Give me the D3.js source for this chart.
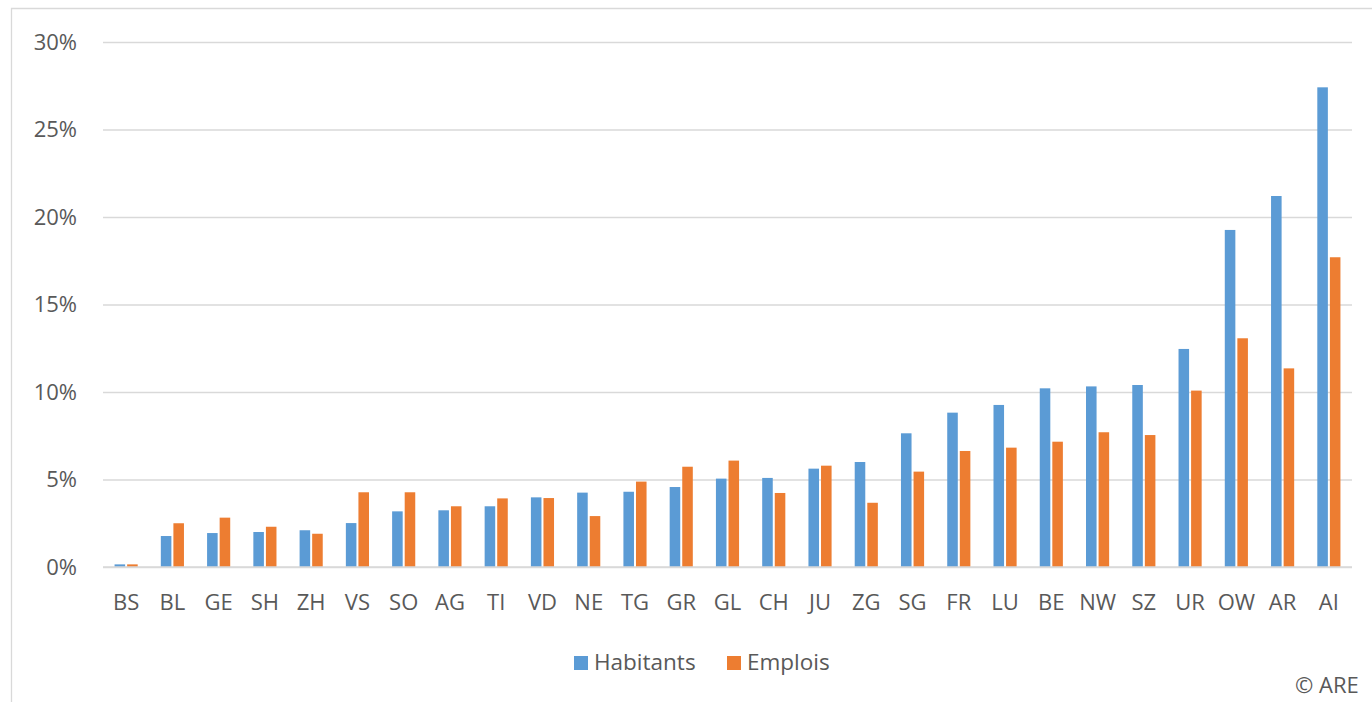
<!DOCTYPE html>
<html>
<head>
<meta charset="utf-8">
<script src="https://cdn.jsdelivr.net/npm/d3@7"></script>
<style>
  html, body { margin: 0; padding: 0; background: #fff; overflow: hidden; }
  svg text { font-family: 'Open Sans', 'Noto Sans', sans-serif; fill: #595959; }
</style>
</head>
<body>
<div id="chart"></div>
<script>
// Cantons, triés par part des habitants
var cantons = ['BS', 'BL', 'GE', 'SH', 'ZH', 'VS', 'SO', 'AG', 'TI', 'VD', 'NE', 'TG', 'GR', 'GL',
  'CH', 'JU', 'ZG', 'SG', 'FR', 'LU', 'BE', 'NW', 'SZ', 'UR', 'OW', 'AR', 'AI']
var habitants = [0.15, 1.77, 1.94, 2.0, 2.1, 2.51, 3.18, 3.24, 3.47, 3.98, 4.25, 4.3, 4.57, 5.05,
  5.09, 5.62, 6.0, 7.64, 8.82, 9.26, 10.21, 10.32, 10.4, 12.46, 19.26, 21.2, 27.41]
var emplois = [0.15, 2.5, 2.82, 2.3, 1.9, 4.27, 4.27, 3.47, 3.92, 3.94, 2.91, 4.88, 5.73, 6.08,
  4.23, 5.79, 3.67, 5.45, 6.63, 6.82, 7.16, 7.7, 7.54, 10.08, 13.07, 11.35, 17.7]
var series = ['Habitants', 'Emplois']
var colors = ['#5b9bd5', '#ed7d31']
var yTicks = [0, 5, 10, 15, 20, 25, 30]

function drawChart() {
  var width = 1372
  var height = 702
  var marginLeft = 103
  var marginRight = 20
  var marginTop = 42
  var plotBottom = 567

  var svg = d3.select('#chart').append('svg').attr('width', width).attr('height', height)

  // cadre
  svg.append('path')
    .attr('d', `M11.5,${height} V8.5 H${width}`)
    .attr('fill', 'none')
    .attr('stroke', '#d9d9d9')
    .attr('stroke-width', 1.3)

  var x0 = d3.scaleBand().domain(cantons).range([marginLeft, width - marginRight]).paddingInner(0.5).paddingOuter(0.25)
  var x1 = d3.scaleBand().domain(series).range([0, x0.bandwidth()]).paddingInner(0.16)
  var y = d3.scaleLinear().domain([0, 30]).range([plotBottom, marginTop])

  // grille + axe y
  var axisLeft = d3.axisLeft(y).tickValues(yTicks).tickSize(-(width - marginRight - marginLeft)).tickPadding(26)
    .tickFormat(function(d) { return d + '%' })
  var g = svg.append('g').attr('transform', `translate(${marginLeft}, 0)`).call(axisLeft)
  g.select('.domain').remove()
  g.selectAll('.tick line').attr('stroke', '#d9d9d9').attr('stroke-width', 1.6)
  g.selectAll('.tick text').attr('font-size', 22).attr('fill', '#595959')

  // barres
  var data = cantons.map(function(c, i) {
    return { canton: c, values: [habitants[i], emplois[i]] }
  })

  var groups = svg.append('g').selectAll('g').data(data).enter().append('g')
    .attr('transform', function(d) { return `translate(${x0(d.canton)}, 0)` })

  groups.selectAll('rect')
    .data(function(d) {
      return d.values.map(function(v, i) { return { key: series[i], value: v, color: colors[i] } })
    })
    .enter().append('rect')
    .attr('x', function(d) { return x1(d.key) })
    .attr('width', x1.bandwidth())
    .attr('y', function(d) { return y(d.value) })
    .attr('height', function(d) { return y(0) - y(d.value) })
    .attr('fill', function(d) { return d.color })

  // axe x
  var axisBottom = d3.axisBottom(x0).tickSize(0).tickPadding(27)
  var gx = svg.append('g').attr('transform', `translate(0, ${plotBottom})`).call(axisBottom)
  gx.select('.domain').remove()
  gx.selectAll('text').attr('font-size', 22).attr('fill', '#595959')
  svg.append('line')
    .attr('x1', marginLeft).attr('x2', width - marginRight)
    .attr('y1', plotBottom).attr('y2', plotBottom)
    .attr('stroke', '#d9d9d9').attr('stroke-width', 1.6)

  // légende
  var legendX = [574, 727]
  var legend = svg.append('g').selectAll('g').data(series).enter().append('g')
    .attr('transform', function(d, i) { return `translate(${legendX[i]}, 656)` })
  legend.append('rect').attr('width', 14).attr('height', 14)
    .attr('fill', function(d, i) { return colors[i] })
  legend.append('text').attr('x', 20).attr('y', 13.5).attr('font-size', 22.5)
    .text(function(d) { return d })

  svg.append('text').attr('x', 1295).attr('y', 693).attr('font-size', 22).text('© ARE')
}

drawChart()
</script>
</body>
</html>
